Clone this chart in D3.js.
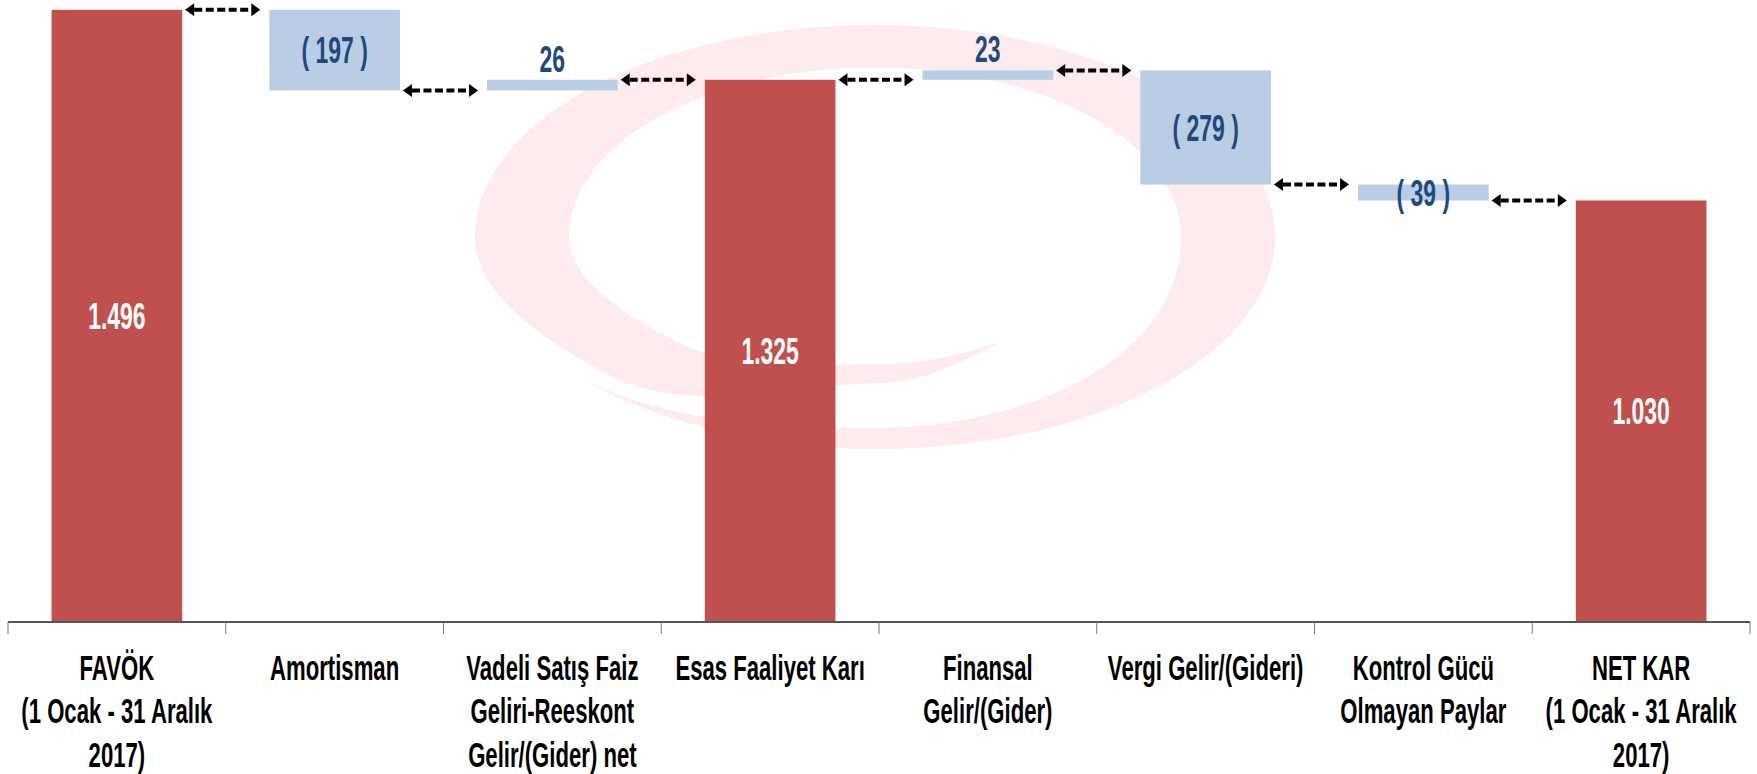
<!DOCTYPE html>
<html>
<head>
<meta charset="utf-8">
<script src="https://cdn.jsdelivr.net/npm/d3@7"></script>
<style>
  html, body { margin: 0; padding: 0; background: #fff; }
  svg { display: block; }
  text { font-family: "Liberation Sans", Arial, sans-serif; font-weight: bold; }
</style>
</head>
<body>
<div id="chart"></div>
<script>
var width = 1757
var height = 774

// data
const categories = ["FAVOK", "Amortisman", "Vadeli", "Esas", "Finansal", "Vergi", "Kontrol", "NetKar"];
const categoryLabels = [
    ["FAVÖK", "(1 Ocak - 31 Aralık", "2017)"],
    ["Amortisman"],
    ["Vadeli Satış Faiz", "Geliri-Reeskont", "Gelir/(Gider) net"],
    ["Esas Faaliyet Karı"],
    ["Finansal", "Gelir/(Gider)"],
    ["Vergi Gelir/(Gideri)"],
    ["Kontrol Gücü", "Olmayan Paylar"],
    ["NET KAR", "(1 Ocak - 31 Aralık", "2017)"]
];
const values = [1496, -197, 26, 1325, 23, -279, -39, 1030];
const isTotal = [true, false, false, true, false, false, false, true];

const red = "#C0504D", blue = "#B9CDE5", labelBlue = "#1F497D";
const sx = 0.82, sy = 1.32; // text in the picture is narrow and tall

const trFormat = d3.formatLocale({decimal: ",", thousands: ".", grouping: [3], currency: ["", " TL"]}).format(",d");

// waterfall steps
let run = 0;
const steps = values.map((v, i) => {
    let s;
    if (isTotal[i]) { s = {y0: 0, y1: v}; run = v; }
    else { s = {y0: run, y1: run + v}; run += v; }
    s.end = run; s.value = v; s.total = isTotal[i]; s.cat = categories[i];
    return s;
});

const svg = d3.select("#chart").append("svg")
    .attr("width", width)
    .attr("height", height);

const x = d3.scaleBand()
    .domain(categories)
    .range([8, 1750])
    .paddingInner(0.4)
    .paddingOuter(0.2);

const y = d3.scaleLinear()
    .domain([0, 1520])
    .range([622, 0]);

// background logo swoosh (faint pink ribbon spiral)
function drawWatermark() {
    const cx = 875, cy = 237, rx = 400, ry = 212;
    const keys = [55, 90, 135, 180, 270, 360, 450, 500];
    const outK = [0.585, 0.69, 0.93, 1.0, 1.0, 1.0, 1.0, 0.99];
    const inK = [0.585, 0.60, 0.70, 0.765, 0.80, 0.765, 0.90, 0.99];
    // smooth step between key angles so the edges have no kinks
    const smooth = (arr, t) => {
        let j = d3.bisectRight(keys, t) - 1;
        j = Math.max(0, Math.min(keys.length - 2, j));
        let u = (t - keys[j]) / (keys[j + 1] - keys[j]);
        u = u * u * (3 - 2 * u);
        return arr[j] + (arr[j + 1] - arr[j]) * u;
    };
    const thetas = d3.range(55, 500.01, 1);
    const pt = (t, k) => {
        const a = t * Math.PI / 180;
        return [cx + rx * k * Math.cos(a), cy + ry * k * Math.sin(a)];
    };
    const outer = thetas.map(t => pt(t, smooth(outK, t)));
    const inner = thetas.slice().reverse().map(t => pt(t, smooth(inK, t)));
    svg.append("path")
        .attr("d", d3.line()(outer.concat(inner)) + "Z")
        .attr("fill", "#FDEBEE");
}
drawWatermark();

// bars
svg.append("g")
    .selectAll("rect")
    .data(steps)
    .join("rect")
    .attr("x", d => x(d.cat))
    .attr("width", x.bandwidth())
    .attr("y", d => y(Math.max(d.y0, d.y1)))
    .attr("height", d => Math.abs(y(d.y0) - y(d.y1)))
    .attr("fill", d => d.total ? red : blue);

// axis line and category separators
const ax = svg.append("g");
ax.append("line")
    .attr("x1", x.range()[0]).attr("x2", x.range()[1])
    .attr("y1", y(0)).attr("y2", y(0))
    .attr("stroke", "#555").attr("stroke-width", 2);
ax.selectAll(".tick")
    .data(d3.range(categories.length + 1))
    .join("line")
    .attr("class", "tick")
    .attr("x1", i => x.range()[0] + i * x.step())
    .attr("x2", i => x.range()[0] + i * x.step())
    .attr("y1", y(0)).attr("y2", y(0) + 12)
    .attr("stroke", "#777").attr("stroke-width", 1);

// category labels
categoryLabels.forEach((lines, i) => {
    const cxp = x(categories[i]) + x.bandwidth() / 2;
    lines.forEach((ln, j) => {
        svg.append("text")
            .attr("transform", `translate(${cxp},${680 + j * 43.3}) scale(${sx},${sy})`)
            .attr("text-anchor", "middle")
            .attr("font-size", 27)
            .attr("fill", "#000")
            .text(ln);
    });
});

// value labels
const fs = 28;
steps.forEach(d => {
    const cxp = x(d.cat) + x.bandwidth() / 2;
    const top = y(Math.max(d.y0, d.y1)), bot = y(Math.min(d.y0, d.y1));
    let by, txt, col;
    if (d.total) {
        txt = trFormat(d.value); col = "#fff";
        by = (top + bot) / 2 + 0.358 * fs * sy;
    } else if (d.value > 0) {
        txt = trFormat(d.value); col = labelBlue;
        by = top - 8;
    } else {
        txt = "( " + trFormat(-d.value) + " )"; col = labelBlue;
        by = (top + bot) / 2 + 0.358 * fs * sy;
    }
    svg.append("text")
        .attr("transform", `translate(${cxp},${by}) scale(${sx},${sy})`)
        .attr("text-anchor", "middle")
        .attr("font-size", fs)
        .attr("fill", col)
        .text(txt);
});

// dashed double arrows joining each bar to the next
const arrows = svg.append("g");
steps.slice(0, -1).forEach((d, i) => {
    const x0 = x(d.cat) + x.bandwidth() + 3;
    const x1 = x(steps[i + 1].cat) - 9;
    const ly = y(d.end);
    const hl = 9, hh = 6.5;
    arrows.append("line")
        .attr("x1", x0 + hl).attr("x2", x1 - hl)
        .attr("y1", ly).attr("y2", ly)
        .attr("stroke", "#000").attr("stroke-width", 4)
        .attr("stroke-dasharray", "8 3.5");
    arrows.append("path")
        .attr("d", `M${x0},${ly}L${x0 + hl},${ly - hh}L${x0 + hl},${ly + hh}Z`)
        .attr("fill", "#000");
    arrows.append("path")
        .attr("d", `M${x1},${ly}L${x1 - hl},${ly - hh}L${x1 - hl},${ly + hh}Z`)
        .attr("fill", "#000");
});
</script>
</body>
</html>
